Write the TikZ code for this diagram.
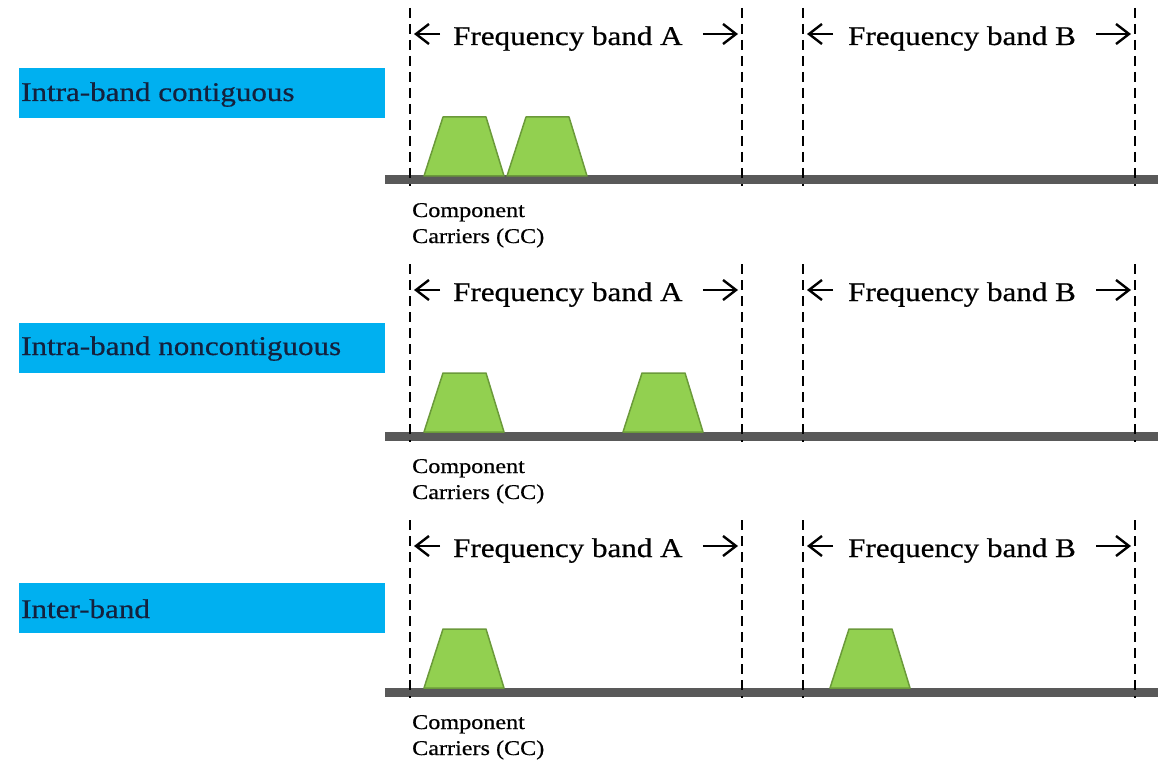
\documentclass[tikz,border=0pt]{standalone}
\usepackage{fontspec}
\setmainfont[FakeStretch=1.15,FakeBold=0.6]{Liberation Serif}
\usetikzlibrary{arrows.meta}

\definecolor{modeblue}{HTML}{00B0F0}
\definecolor{ccgreen}{HTML}{92D050}
\definecolor{ccedge}{HTML}{6B9A3A}
\definecolor{axisgray}{HTML}{595959}
\definecolor{labelink}{HTML}{14213D}

\tikzset{
  modebox/.style={fill=modeblue, draw=none, minimum width=366pt, minimum height=50pt,
                  inner sep=0pt, anchor=north west},
  modelabel/.style={font=\fontsize{27}{30}\selectfont, text=labelink, anchor=base west, inner sep=0pt},
  bandlabel/.style={font=\fontsize{27}{30}\selectfont, anchor=base west, inner sep=0pt},
  cclabel/.style={font=\fontsize{21}{25}\selectfont, anchor=base west, inner sep=0pt},
  bandedge/.style={line width=2.6pt, dash pattern=on 10pt off 6pt},
  bandarrow/.style={line width=2.4pt, -{Straight Barb[length=13pt,width=20pt,line width=2.4pt]}},
  axisline/.style={line width=9pt, draw=axisgray},
  carrierstyle/.style={fill=ccgreen, draw=ccedge, line width=1.5pt, line join=round},
  cc/.pic={\draw[carrierstyle] (0,0) -- (19,-59) -- (62,-59) -- (80,0) -- cycle;}
}

\begin{document}
\begin{tikzpicture}[x=1pt, y=-1pt]
  \useasboundingbox (0,0) rectangle (1158,762);

  % one band row: axis, band edges, band labels and arrows, carrier caption
  \foreach \dy/\r in {0/1, 256/2, 512/3} {
    \begin{scope}[shift={(0,\dy)}]
      \coordinate (a\r) at (385,180);
      \coordinate (z\r) at (1158,180);
      \draw[axisline] (a\r) -- (z\r);

      \coordinate (ea\r) at (410,8);   \coordinate (fa\r) at (410,186);
      \coordinate (eb\r) at (742,8);   \coordinate (fb\r) at (742,186);
      \coordinate (ec\r) at (803,8);   \coordinate (fc\r) at (803,186);
      \coordinate (ed\r) at (1135,8);  \coordinate (fd\r) at (1135,186);
      \draw[bandedge] (ea\r) -- (fa\r);
      \draw[bandedge] (eb\r) -- (fb\r);
      \draw[bandedge] (ec\r) -- (fc\r);
      \draw[bandedge] (ed\r) -- (fd\r);

      \node[bandlabel] (bandA\r) at (453,45) {Frequency band A};
      \node[bandlabel] (bandB\r) at (848,45) {Frequency band B};

      \coordinate (la\r) at (414,34);  \coordinate (ra\r) at (738,34);
      \coordinate (lb\r) at (807,34);  \coordinate (rb\r) at (1131,34);
      \draw[bandarrow] (bandA\r.west |- la\r) ++(-13,0) -- (la\r);
      \draw[bandarrow] (bandA\r.east |- ra\r) ++(20,0) -- (ra\r);
      \draw[bandarrow] (bandB\r.west |- lb\r) ++(-15,0) -- (lb\r);
      \draw[bandarrow] (bandB\r.east |- rb\r) ++(20,0) -- (rb\r);

      \node[cclabel] (cc\r) at (412,217) {Component};
      \node[cclabel] (ccb\r) at (412,243) {Carriers (CC)};
    \end{scope}
  }

  % mode boxes
  \node[modebox] (m1) at (19,68) {};
  \node[modelabel] (t1) at (21,101) {Intra-band contiguous};
  \node[modebox] (m2) at (19,323) {};
  \node[modelabel] (t2) at (21,355) {Intra-band noncontiguous};
  \node[modebox] (m3) at (19,583) {};
  \node[modelabel] (t3) at (21,618) {Inter-band};

  % component carriers
  \pic at (424,176) {cc};
  \pic at (507,176) {cc};
  \pic at (424,432) {cc};
  \pic at (623,432) {cc};
  \pic at (424,688) {cc};
  \pic at (830,688) {cc};
\end{tikzpicture}
\end{document}
